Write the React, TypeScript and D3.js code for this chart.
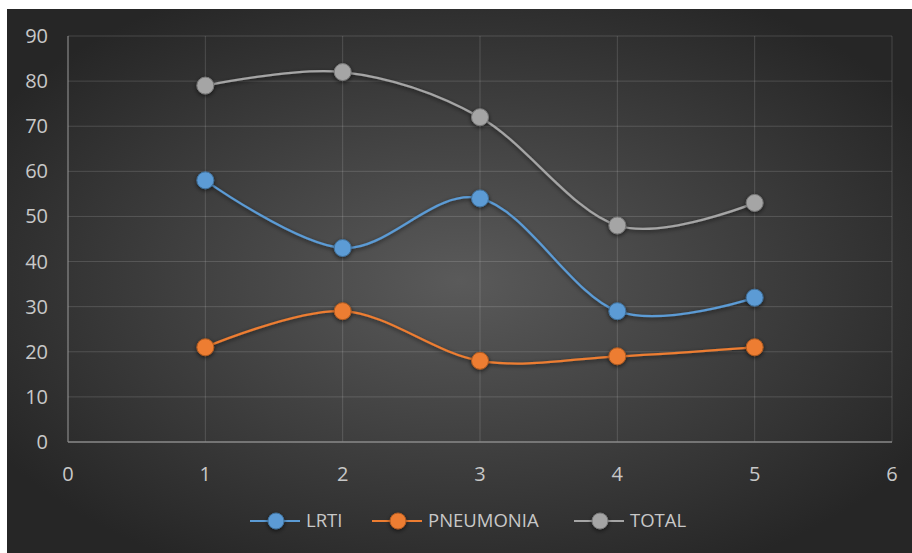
import React, { useEffect, useRef } from 'react';
import * as d3 from 'd3';

const xValues = [1, 2, 3, 4, 5];
const lrti = [58, 43, 54, 29, 32];
const pneumonia = [21, 29, 18, 19, 21];
const total = [79, 82, 72, 48, 53];
const xTicks = [0, 1, 2, 3, 4, 5, 6];
const yTicks = [0, 10, 20, 30, 40, 50, 60, 70, 80, 90];

const series = [
  { name: 'LRTI', values: lrti, color: '#5B9BD5', stroke: '#41719C' },
  { name: 'PNEUMONIA', values: pneumonia, color: '#ED7D31', stroke: '#AE5A21' },
  { name: 'TOTAL', values: total, color: '#A5A5A5', stroke: '#787878' },
];

const W = 912;
const H = 553;

const App: React.FC = () => {
  const svgRef = useRef<SVGSVGElement>(null);

  useEffect(() => {
    if (!svgRef.current) return;
    d3.select(svgRef.current).selectAll('*').remove();

    const svg = d3.select(svgRef.current)
      .attr('width', W)
      .attr('height', H);

    const defs = svg.append('defs');
    const grad = defs.append('radialGradient')
      .attr('id', 'bg')
      .attr('cx', '50%').attr('cy', '50%').attr('r', '60%');
    grad.append('stop').attr('offset', '0%').attr('stop-color', '#5a5a5a');
    grad.append('stop').attr('offset', '100%').attr('stop-color', '#262626');

    const shadow = defs.append('filter').attr('id', 'shadow')
      .attr('x', '-50%').attr('y', '-50%').attr('width', '200%').attr('height', '200%');
    shadow.append('feDropShadow')
      .attr('dx', 0).attr('dy', 1.5).attr('stdDeviation', 2)
      .attr('flood-color', '#000').attr('flood-opacity', 0.6);

    // background
    svg.append('rect')
      .attr('x', 7).attr('y', 9)
      .attr('width', W - 7).attr('height', H - 9)
      .attr('fill', 'url(#bg)');

    const x = d3.scaleLinear().domain([0, 6]).range([68, 892]);
    const y = d3.scaleLinear().domain([0, 90]).range([442, 36]);

    // grid
    svg.append('g').selectAll('line.h')
      .data(yTicks.filter(d => d > 0))
      .enter().append('line')
      .attr('x1', x(0)).attr('x2', x(6))
      .attr('y1', d => y(d)).attr('y2', d => y(d))
      .attr('stroke', '#ffffff').attr('stroke-opacity', 0.15).attr('stroke-width', 1);

    svg.append('g').selectAll('line.v')
      .data(xTicks.filter(d => d > 0))
      .enter().append('line')
      .attr('x1', d => x(d)).attr('x2', d => x(d))
      .attr('y1', y(90)).attr('y2', y(0))
      .attr('stroke', '#ffffff').attr('stroke-opacity', 0.15).attr('stroke-width', 1);

    // axes
    svg.append('line')
      .attr('x1', x(0)).attr('x2', x(0)).attr('y1', y(90)).attr('y2', y(0))
      .attr('stroke', '#9a9a9a').attr('stroke-width', 1);
    svg.append('line')
      .attr('x1', x(0)).attr('x2', x(6)).attr('y1', y(0)).attr('y2', y(0))
      .attr('stroke', '#8a8a8a').attr('stroke-width', 1.5);

    const font = '"Open Sans", "DejaVu Sans", sans-serif';

    svg.append('g').selectAll('text')
      .data(yTicks)
      .enter().append('text')
      .attr('x', 48).attr('y', d => y(d))
      .attr('dy', '0.35em')
      .attr('text-anchor', 'end')
      .attr('fill', '#c8c8c8')
      .style('font-family', font).style('font-size', '20px')
      .text(d => d);

    svg.append('g').selectAll('text')
      .data(xTicks)
      .enter().append('text')
      .attr('x', d => x(d)).attr('y', 474)
      .attr('dy', '0.35em')
      .attr('text-anchor', 'middle')
      .attr('fill', '#c8c8c8')
      .style('font-family', font).style('font-size', '20px')
      .text(d => d);

    const line = d3.line<number>()
      .x((_, i) => x(xValues[i]))
      .y(d => y(d))
      .curve(d3.curveCardinal.tension(0));

    series.forEach(s => {
      const g = svg.append('g');
      g.append('path')
        .datum(s.values)
        .attr('d', line)
        .attr('fill', 'none')
        .attr('stroke', s.color)
        .attr('stroke-width', 2.25)
        .attr('filter', 'url(#shadow)');
      g.selectAll('circle')
        .data(s.values)
        .enter().append('circle')
        .attr('cx', (_, i) => x(xValues[i]))
        .attr('cy', d => y(d))
        .attr('r', 8.5)
        .attr('fill', s.color)
        .attr('stroke', s.stroke)
        .attr('stroke-width', 1)
        .attr('filter', 'url(#shadow)');
    });

    // legend
    const legendX = [250, 372, 574];
    const legend = svg.append('g');
    series.forEach((s, i) => {
      const lx = legendX[i];
      const ly = 521;
      legend.append('line')
        .attr('x1', lx).attr('x2', lx + 50)
        .attr('y1', ly).attr('y2', ly)
        .attr('stroke', s.color).attr('stroke-width', 2);
      legend.append('circle')
        .attr('cx', lx + 26).attr('cy', ly).attr('r', 8)
        .attr('fill', s.color).attr('stroke', s.stroke).attr('stroke-width', 1)
        .attr('filter', 'url(#shadow)');
      legend.append('text')
        .attr('x', lx + 56).attr('y', ly)
        .attr('dy', '0.35em')
        .attr('fill', '#c8c8c8')
        .style('font-family', font).style('font-size', '18.5px')
        .text(s.name);
    });
  }, []);

  return <svg ref={svgRef} style={{ position: 'absolute', left: 0, top: 0 }} />;
};

export default App;
